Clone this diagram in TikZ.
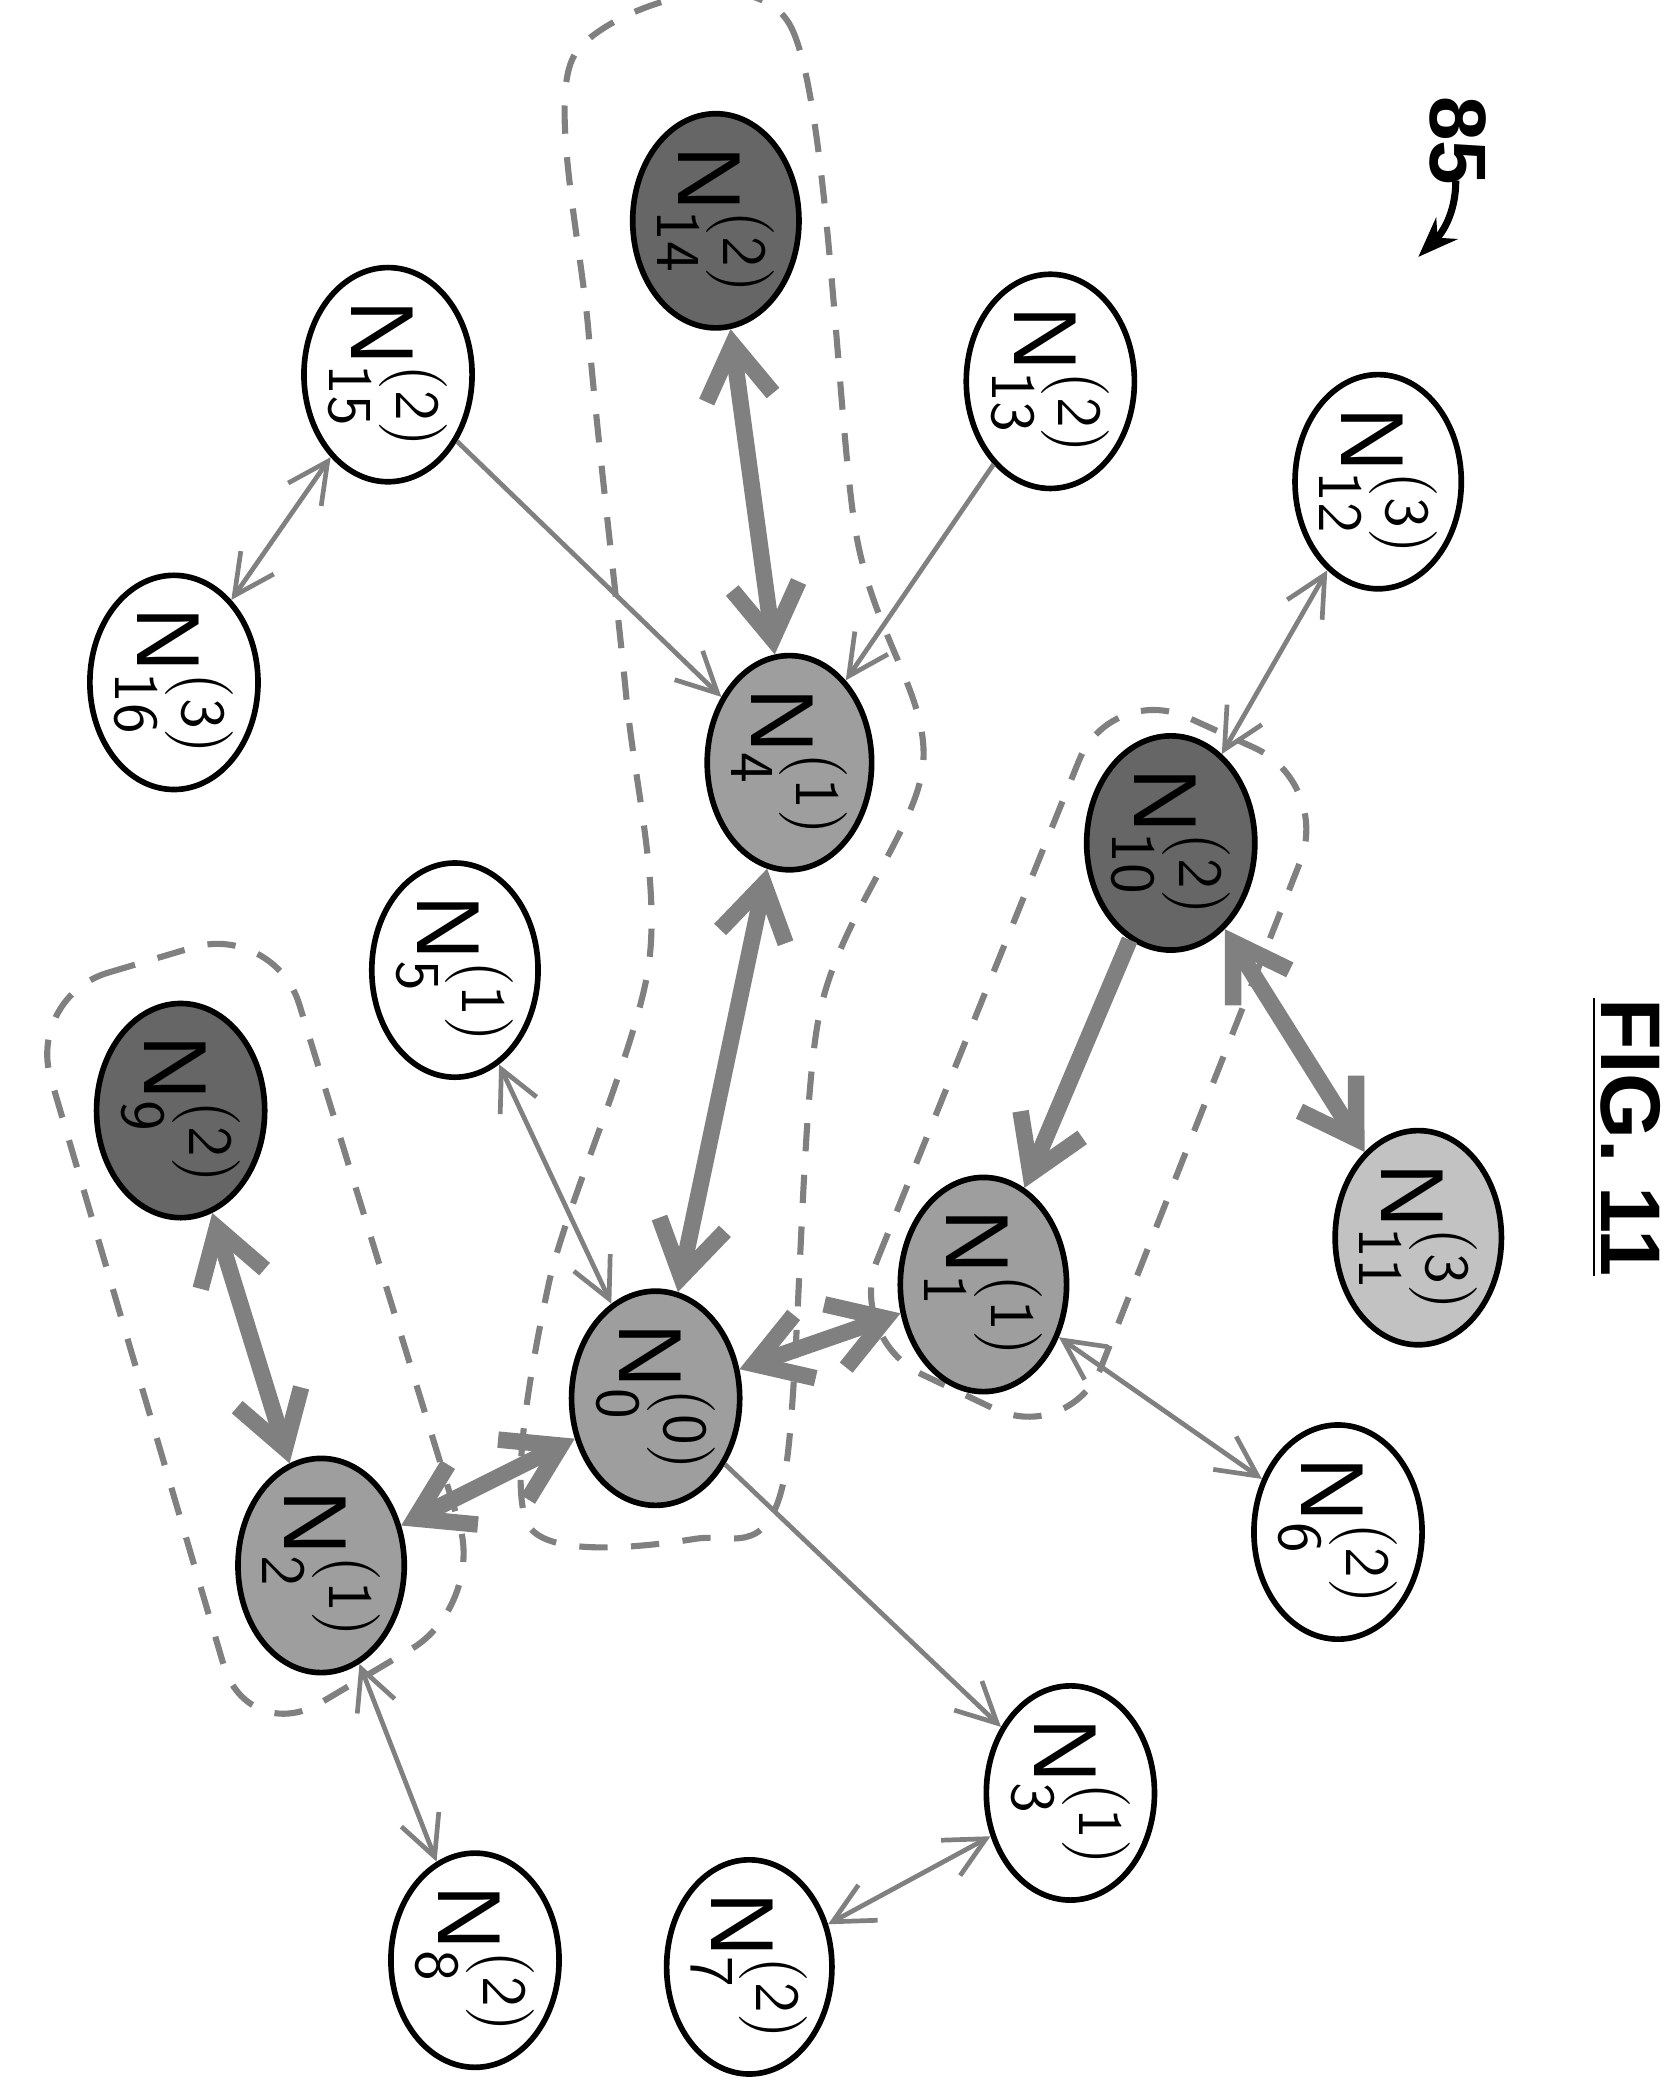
\documentclass[tikz,border=0pt]{standalone}
\usepackage{fontspec}
\setmainfont{Liberation Sans}
\usetikzlibrary{shapes.geometric,arrows.meta}
\definecolor{midgray}{gray}{0.62}
\definecolor{darkgray}{gray}{0.40}
\definecolor{lightgray}{gray}{0.76}
\definecolor{edgegray}{gray}{0.50}
\tikzset{
  nd/.style={ellipse,draw,line width=1.2pt,minimum width=1.15cm,minimum height=1.6cm,inner sep=0pt,font=\fontsize{19}{19}\selectfont},
  lvl0/.style={nd,fill=midgray},
  lvl1/.style={nd,fill=midgray},
  dark/.style={nd,fill=darkgray},
  light/.style={nd,fill=lightgray},
  thin/.style={draw=edgegray,line width=1pt,-{Straight Barb[length=3mm,width=3mm]}},
  thinb/.style={thin,{Straight Barb[length=3mm,width=3mm]}-{Straight Barb[length=3mm,width=3mm]}},
  thick/.style={draw=edgegray,line width=3.5pt,-{Straight Barb[length=4mm,width=5mm]}},
  thickb/.style={thick,{Straight Barb[length=4mm,width=5mm]}-{Straight Barb[length=4mm,width=5mm]}},
  grp/.style={draw=gray,dashed,line width=1.3pt,dash pattern=on 6pt off 5pt}
}
\newcommand{\lbl}[2]{\rotatebox{-90}{N$_{\mathsf{#1}}^{\mathsf{(#2)}}$}}
\begin{document}
\begin{tikzpicture}[x=0.01cm,y=-0.01cm]
\useasboundingbox (0,0) rectangle (1250,1562);

% groups
\draw[grp,rounded corners=18pt] (20,745) -- (205,690) -- (362,1200) -- (185,1305) -- cycle;
\draw[grp,rounded corners=18pt] (632,1000) -- (830,510) -- (995,585) -- (800,1080) -- cycle;
\draw[grp] plot[smooth cycle] coordinates {(430,40) (590,18) (640,400) (690,570) (612,760) (585,1110) (520,1150) (395,1140) (410,960) (485,720) (468,520) (440,250)};

% nodes
\node[lvl0] (n0) at (490,1045) {\lbl{0}{0}};
\node[lvl1] (n1) at (735,960) {\lbl{1}{1}};
\node[lvl1] (n2) at (240,1170) {\lbl{2}{1}};
\node[nd] (n3) at (800,1340) {\lbl{3}{1}};
\node[lvl1] (n4) at (590,570) {\lbl{4}{1}};
\node[nd] (n5) at (340,725) {\lbl{5}{1}};
\node[nd] (n6) at (1000,1145) {\lbl{6}{2}};
\node[nd] (n7) at (560,1470) {\lbl{7}{2}};
\node[nd] (n8) at (355,1465) {\lbl{8}{2}};
\node[dark] (n9) at (135,830) {\lbl{9}{2}};
\node[dark] (n10) at (875,630) {\lbl{10}{2}};
\node[light] (n11) at (1060,925) {\lbl{11}{3}};
\node[nd] (n12) at (1030,360) {\lbl{12}{3}};
\node[nd] (n13) at (785,285) {\lbl{13}{2}};
\node[dark] (n14) at (535,165) {\lbl{14}{2}};
\node[nd] (n15) at (290,280) {\lbl{15}{2}};
\node[nd] (n16) at (130,510) {\lbl{16}{3}};

% connectors
\draw[thickb] (n0) -- (n2);
\draw[thickb] (n0) -- (n1);
\draw[thickb] (n0) -- (n4);
\draw[thickb] (n2) -- (n9);
\draw[thickb] (n4) -- (n14);
\draw[thickb] (n10) -- (n11);
\draw[thick] (n10) -- (n1);
\draw[thin] (n0) -- (n3);
\draw[thinb] (n0) -- (n5);
\draw[thinb] (n1) -- (n6);
\draw[thinb] (n2) -- (n8);
\draw[thinb] (n3) -- (n7);
\draw[thin] (n15) -- (n4);
\draw[thin] (n13) -- (n4);
\draw[thinb] (n10) -- (n12);
\draw[thinb] (n15) -- (n16);

% labels
\node[font=\bfseries\fontsize{17}{17}\selectfont,rotate=-90] (ref) at (1090,105) {85};
\coordinate (refend) at (1060,192);
\draw[line width=1.5pt,-{Stealth[length=3mm]}] (1088,135) to[out=-90,in=45] (refend);
\node[font=\bfseries\fontsize{18}{18}\selectfont,rotate=-90] (fig) at (1215,850) {\underline{FIG. 11}};
\end{tikzpicture}
\end{document}
